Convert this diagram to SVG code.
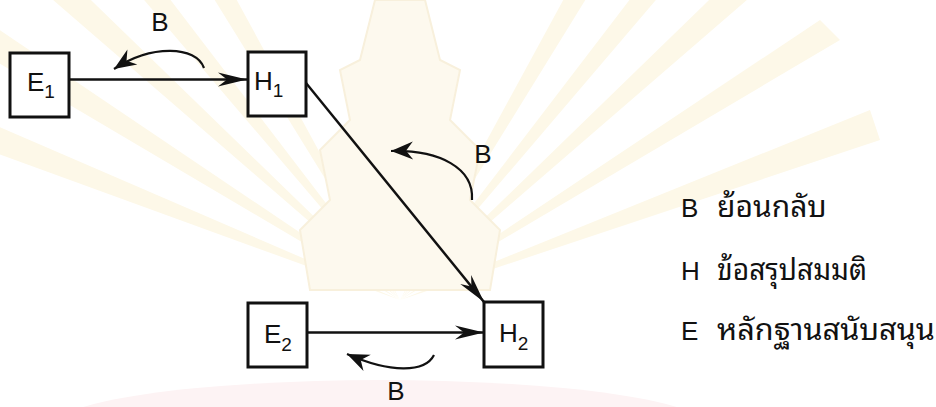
<svg xmlns="http://www.w3.org/2000/svg" width="936" height="407" viewBox="0 0 936 407">
  <defs>
    <style>
      .box { fill: #ffffff; stroke: #111111; stroke-width: 3; }
      .link { fill: none; stroke: #111111; stroke-width: 2.5; }
      .back { fill: none; stroke: #111111; stroke-width: 2.2; }
      .lbl { font-family: "Liberation Sans", Arial, sans-serif; font-size: 26px; fill: #111111; }
      .sub { font-size: 19px; }
      .thai { font-family: "Noto Sans Thai Looped", "Noto Sans Thai", "Noto Sans", sans-serif; font-size: 30px; fill: #111111; }
      .ray { fill: #fdf8e8; }
    </style>
    <!-- long barbed head for the main connectors -->
    <marker id="barb" viewBox="-30 -8 32 16" refX="0" refY="0" markerWidth="32" markerHeight="16" orient="auto" markerUnits="userSpaceOnUse">
      <path d="M0,0 L-29,-7 L-20,0 L-29,7 Z" fill="#111111"/>
    </marker>
    <!-- short barbed head for the feedback curves -->
    <marker id="bhead" viewBox="-24 -10 26 20" refX="0" refY="0" markerWidth="26" markerHeight="20" orient="auto" markerUnits="userSpaceOnUse">
      <path d="M0,0 L-22,-9 L-15,0 L-22,9 Z" fill="#111111"/>
    </marker>
  </defs>

  <rect width="936" height="407" fill="#ffffff"/>

  <!-- faint background emblem -->
  <g id="watermark">
    <g class="ray">
      <polygon points="400,300 -40,40 -30,10"/>
      <polygon points="400,300 30,-20 60,-30"/>
      <polygon points="400,300 110,-40 140,-40"/>
      <polygon points="400,300 190,-40 215,-40"/>
      <polygon points="400,300 -40,140 -40,110"/>
      <polygon points="400,300 585,-40 610,-40"/>
      <polygon points="400,300 660,-40 690,-40"/>
      <polygon points="400,300 740,-30 770,-20"/>
      <polygon points="400,300 820,20 840,40"/>
      <polygon points="400,300 870,110 880,140"/>
    </g>
    <path d="M375,0 L425,0 L440,60 L460,70 L450,120 L480,150 L470,200 L500,230 L490,290 L310,290 L300,230 L330,200 L320,150 L350,120 L340,70 L360,60 Z" fill="#fdf9ee" stroke="#f8f0dc" stroke-width="2"/>
    <ellipse cx="380" cy="428" rx="330" ry="48" fill="#fdf3f4"/>
  </g>

  <!-- connectors -->
  <g id="connectors">
    <line class="link" x1="69" y1="79.5" x2="247" y2="79.5" marker-end="url(#barb)"/>
    <line class="link" x1="306" y1="83" x2="484" y2="302" marker-end="url(#barb)"/>
    <line class="link" x1="307" y1="332.5" x2="484" y2="332.5" marker-end="url(#barb)"/>
    <path class="back" d="M204,68 C196,46 152,44 114,69" marker-end="url(#bhead)"/>
    <path class="back" d="M472,200 C474,168 440,150 391,151" marker-end="url(#bhead)"/>
    <path class="back" d="M434,355 C425,373 390,373 347,354" marker-end="url(#bhead)"/>
    <text class="lbl" x="160" y="31" text-anchor="middle">B</text>
    <text class="lbl" x="483" y="163" text-anchor="middle">B</text>
    <text class="lbl" x="396" y="400" text-anchor="middle" font-size="24">B</text>
  </g>

  <!-- nodes -->
  <g id="E1">
    <rect class="box" x="10" y="53" width="59" height="64"/>
    <text class="lbl" x="27" y="91">E<tspan class="sub" dy="7">1</tspan></text>
  </g>
  <g id="H1">
    <rect class="box" x="248" y="52" width="58" height="64"/>
    <text class="lbl" x="254" y="90">H<tspan class="sub" dy="7">1</tspan></text>
  </g>
  <g id="E2">
    <rect class="box" x="248" y="303" width="59" height="64"/>
    <text class="lbl" x="264" y="343">E<tspan class="sub" dy="8">2</tspan></text>
  </g>
  <g id="H2">
    <rect class="box" x="484" y="302" width="59" height="65"/>
    <text class="lbl" x="499" y="342">H<tspan class="sub" dy="8">2</tspan></text>
  </g>

  <!-- legend -->
  <g id="legend">
    <text class="lbl" x="681" y="217">B</text>
    <text class="thai" x="717" y="217">ย้อนกลับ</text>
    <text class="lbl" x="681" y="280">H</text>
    <text class="thai" x="717" y="280" textLength="150" lengthAdjust="spacingAndGlyphs">ข้อสรุปสมมติ</text>
    <text class="lbl" x="681" y="340">E</text>
    <text class="thai" x="717" y="340" textLength="218" lengthAdjust="spacingAndGlyphs">หลักฐานสนับสนุน</text>
  </g>
</svg>
